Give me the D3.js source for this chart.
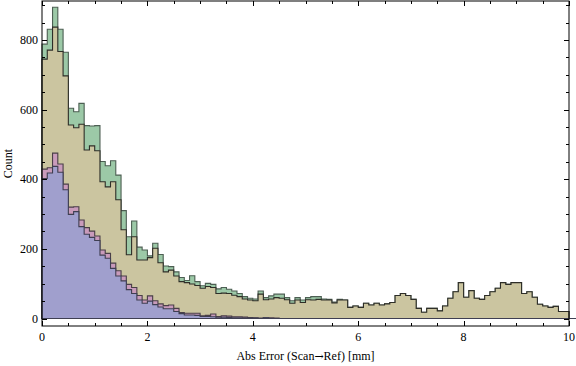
<!DOCTYPE html>
<html>
<head>
<meta charset="utf-8">
<script src="https://cdn.jsdelivr.net/npm/d3@7"></script>
<style>
  body { margin: 0; background: #fff; }
  text { font-family: "Liberation Serif", "DejaVu Serif", serif; }
</style>
</head>
<body>
<div id="chart"></div>
<script>
// Histogram counts, one value per 0.1 mm bin from 0 to 10
const binWidth = 0.1;

const seriesGreen = [
  788, 831, 894, 831, 765, 604, 594, 618, 554, 553, 554, 451, 439, 453, 412, 310, 235, 280,
  205, 197, 180, 216, 184, 151, 149, 134, 118, 109, 123, 106, 94, 101, 98, 85,
  89, 84, 79, 72, 63, 58, 56, 79, 60, 65, 70, 70, 60, 51, 60, 53, 60, 63,
  63, 56, 55, 47, 55, 53, 32, 36, 32, 44, 39,
  44, 39, 42, 46, 66, 72, 66, 55, 29, 18, 29, 29, 22, 36, 58, 77, 103, 61, 80, 58,
  55, 66, 77, 87, 103, 98, 103, 103, 72, 77, 61, 41, 36, 32, 35, 20, 20
];

const seriesTan = [
  745, 771, 837, 767, 697, 556, 548, 558, 484, 496, 482, 393, 378, 393, 341, 255, 183, 235,
  168, 168, 175, 202, 160, 134, 139, 122, 106, 103, 99, 95, 87, 92, 89, 72,
  73, 72, 67, 63, 56, 53, 51, 70, 54, 56, 60, 58, 54, 44, 53, 46, 54, 53,
  55, 53, 53, 45, 53, 53, 32, 36, 32, 44, 39,
  44, 39, 42, 46, 66, 72, 66, 55, 29, 18, 29, 29, 22, 36, 58, 77, 103, 61, 80, 58,
  55, 66, 77, 87, 103, 98, 103, 103, 72, 77, 61, 41, 36, 32, 35, 20, 20
];

const seriesPink = [
  429, 433, 475, 444, 386, 320, 321, 283, 261, 251, 237, 197, 187, 159, 137, 122, 98, 89,
  66, 53, 65, 51, 42, 37, 39, 29, 17, 15, 15, 15, 8, 9, 13, 6,
  8, 7, 5, 5, 4, 3, 2, 1, 3, 2, 1, 0, 0, 0, 0, 0,
  0, 0, 0, 0, 0, 0, 0, 0, 0, 0, 0, 0, 0, 0, 0, 0, 0, 0, 0, 0,
  0, 0, 0, 0, 0, 0, 0, 0, 0, 0, 0, 0, 0, 0, 0, 0, 0, 0, 0, 0,
  0, 0, 0, 0, 0, 0, 0, 0, 0, 0, 0, 0, 0, 0, 0, 0, 0, 0, 0, 0
];

const seriesBlue = [
  402, 418, 437, 420, 370, 299, 307, 264, 242, 233, 224, 182, 173, 144, 122, 108, 83, 72,
  53, 44, 50, 40, 33, 28, 28, 20, 14, 10, 10, 9, 6, 6, 5, 2,
  4, 3, 2, 2, 1, 1, 1, 0, 2, 0, 0, 0, 0, 0, 0, 0,
  0, 0, 0, 0, 0, 0, 0, 0, 0, 0, 0, 0, 0, 0, 0, 0, 0, 0, 0, 0,
  0, 0, 0, 0, 0, 0, 0, 0, 0, 0, 0, 0, 0, 0, 0, 0, 0, 0, 0, 0,
  0, 0, 0, 0, 0, 0, 0, 0, 0, 0, 0, 0, 0, 0, 0, 0, 0, 0, 0, 0
];

const xTicks = [0, 2, 4, 6, 8, 10];
const yTicks = [0, 200, 400, 600, 800];
const xLabelParts = ["Abs Error (Scan", "\u2192", "Ref) [mm]"];
const yLabel = "Count";

// Layout
const width = 576, height = 366;
const plotLeft = 42, plotRight = 569, plotTop = 1, plotBottom = 326;

const svg = d3.select("#chart")
  .append("svg")
  .attr("width", width)
  .attr("height", height);

const xScale = d3.scaleLinear().domain([0, 10]).range([plotLeft, plotRight]);
const yScale = d3.scaleLinear().domain([-21.5, 912]).range([plotBottom, plotTop]);

// Step areas, drawn tallest first
const layers = [
  { values: seriesGreen, fill: "#9cc9a7", stroke: "#4d5f53" },
  { values: seriesTan,   fill: "#cbc5a0", stroke: "#2e2e28" },
  { values: seriesPink,  fill: "#c99bbb", stroke: "#4a3f48" },
  { values: seriesBlue,  fill: "#a09fcd", stroke: "#3f3f52" }
];

const area = d3.area()
  .curve(d3.curveStepAfter)
  .x(d => xScale(d.x))
  .y0(yScale(0))
  .y1(d => yScale(d.y));

layers.forEach(layer => {
  const pts = layer.values.map((v, i) => ({ x: i * binWidth, y: v }));
  pts.push({ x: layer.values.length * binWidth, y: layer.values[layer.values.length - 1] });
  svg.append("path")
    .datum(pts)
    .attr("d", area)
    .attr("fill", layer.fill)
    .attr("stroke", layer.stroke)
    .attr("stroke-width", 1.1)
    .attr("stroke-linejoin", "miter");
});

// Frame
svg.append("rect")
  .attr("x", plotLeft).attr("y", plotTop)
  .attr("width", plotRight - plotLeft).attr("height", plotBottom - plotTop)
  .attr("fill", "none")
  .attr("stroke", "#000")
  .attr("stroke-width", 1);

// Ticks on all four sides, pointing inward
const xMinor = d3.range(0, 10.01, 0.5);
const yMinor = d3.range(0, 901, 50);

const tickG = svg.append("g").attr("stroke", "#000").attr("stroke-width", 1);
xMinor.forEach(t => {
  const len = xTicks.includes(Math.round(t * 10) / 10) ? 5 : 3;
  const x = Math.round(xScale(t)) + 0.5;
  tickG.append("line").attr("x1", x).attr("x2", x).attr("y1", plotBottom).attr("y2", plotBottom - len);
  tickG.append("line").attr("x1", x).attr("x2", x).attr("y1", plotTop).attr("y2", plotTop + len);
});
yMinor.forEach(t => {
  const len = yTicks.includes(t) ? 5 : 3;
  const y = Math.round(yScale(t)) + 0.5;
  tickG.append("line").attr("x1", plotLeft).attr("x2", plotLeft + len).attr("y1", y).attr("y2", y);
  tickG.append("line").attr("x1", plotRight).attr("x2", plotRight - len).attr("y1", y).attr("y2", y);
});

// Tick labels
svg.append("g").selectAll("text")
  .data(xTicks)
  .join("text")
  .attr("x", d => xScale(d))
  .attr("y", plotBottom + 15)
  .attr("text-anchor", "middle")
  .attr("font-size", 12)
  .text(d => d);

svg.append("g").selectAll("text")
  .data(yTicks)
  .join("text")
  .attr("x", plotLeft - 4)
  .attr("y", d => yScale(d) + 4)
  .attr("text-anchor", "end")
  .attr("font-size", 12)
  .text(d => d);

// Axis titles
const xTitle = svg.append("text")
  .attr("x", (plotLeft + plotRight) / 2)
  .attr("y", 360)
  .attr("text-anchor", "middle")
  .attr("font-size", 12);
xTitle.append("tspan").text(xLabelParts[0]);
xTitle.append("tspan").attr("font-family", "DejaVu Serif").attr("font-size", 11).text(xLabelParts[1]);
xTitle.append("tspan").text(xLabelParts[2]);

svg.append("text")
  .attr("transform", "translate(12," + ((plotTop + plotBottom) / 2) + ") rotate(-90)")
  .attr("text-anchor", "middle")
  .attr("font-size", 12)
  .text(yLabel);
</script>
</body>
</html>
